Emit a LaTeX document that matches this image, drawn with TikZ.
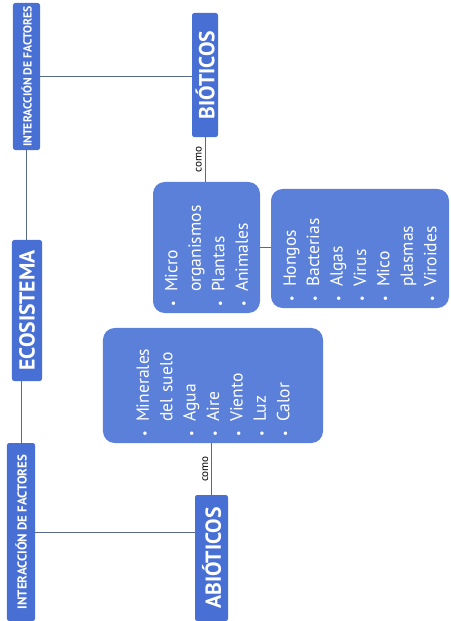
\documentclass[tikz,border=0pt]{standalone}
\usepackage{fontspec}
\setmainfont{PT Sans}
\usetikzlibrary{positioning}

\definecolor{boxblue}{RGB}{90,128,218}
\definecolor{hdrblue}{RGB}{72,112,212}
\definecolor{linkgray}{RGB}{88,104,140}

\newcommand{\bul}{\makebox[0.8em][l]{\scalebox{0.7}{\textbullet}}}
\newcommand{\nobul}{\hspace*{0.8em}}

\begin{document}
\begin{tikzpicture}[
  x=0.03cm, y=-0.03cm,
  header/.style={fill=hdrblue, text=white, rounded corners=2pt, rotate=90, inner sep=0pt},
  factorbox/.style={header, font=\bfseries\fontsize{10}{12}\selectfont},
  mainbox/.style={header, font=\bfseries\fontsize{18.5}{20}\selectfont},
  listbox/.style={fill=boxblue, text=white, rounded corners=10pt, rotate=90, align=left,
    inner xsep=6pt, inner ysep=0pt, font=\fontsize{15}{20}\selectfont},
  link/.style={draw=linkgray, line width=0.6pt},
  comolabel/.style={rotate=90, anchor=south, inner sep=2.5pt, font=\fontsize{9.5}{11}\selectfont},
]
\useasboundingbox (0,0) rectangle (450,621);

% left column
\node[factorbox, minimum width=4.41cm, minimum height=0.81cm] (intTop) at (26.5,76.5) {INTERACCIÓN DE FACTORES};
\node[mainbox, minimum width=4.23cm, minimum height=0.9cm] (eco) at (27,310.5) {ECOSISTEMA};
\node[factorbox, minimum width=5.34cm, minimum height=0.84cm, font=\bfseries\fontsize{11}{13}\selectfont]
  (intBot) at (21,532) {INTERACCIÓN DE FACTORES};

% factors
\node[mainbox, minimum width=3.72cm, minimum height=0.78cm] (bio) at (205,75) {BIÓTICOS};
\node[mainbox, minimum width=3.78cm, minimum height=0.99cm] (abio) at (211.5,558) {ABIÓTICOS};

% lists
\node[listbox, text width=3.51cm, minimum height=3.21cm] (micro) at (206.5,247.5)
  {\bul Micro\\ \nobul organismos\\ \bul Plantas\\ \bul Animales};
\node[listbox, text width=3.15cm, minimum height=5.34cm] (hongos) at (360,248.5)
  {\bul Hongos\\ \bul Bacterias\\ \bul Algas\\ \bul Virus\\ \bul Mico\\ \nobul plasmas\\ \bul Viroides};
\node[listbox, text width=3.03cm, minimum height=6.6cm] (minerales) at (213,385.5)
  {\bul Minerales\\ \nobul del suelo\\ \bul Agua\\ \bul Aire\\ \bul Viento\\ \bul Luz\\ \bul Calor};

% connectors
\draw[link] (intTop.west) -- (intTop.west |- eco.east);
\draw[link] (intBot.east |- eco.west) -- (intBot.east);
\draw[link] (intTop.south) -- (intTop.south -| bio.north);
\draw[link] (intBot.south) -- (intBot.south -| abio.north);
\draw[link] (bio.west) -- (bio.west |- micro.east) node[comolabel, midway] (comoBio) {como};
\draw[link] (abio.east |- minerales.west) -- (abio.east) node[comolabel, midway] (comoAbio) {como};
\draw[link] (micro.south) -- (micro.south -| hongos.north);
\end{tikzpicture}
\end{document}
